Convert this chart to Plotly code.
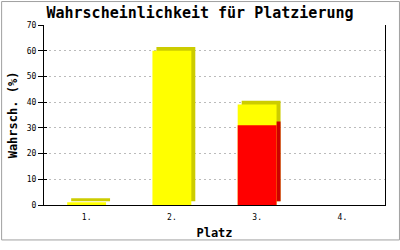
import plotly.graph_objects as go

categories = ["1.", "2.", "3.", "4."]
yellow_values = [1.1, 60.0, 39.1, 0.0]
red_values = [0.0, 0.0, 31.0, 0.0]
y_ticks = [0, 10, 20, 30, 40, 50, 60, 70]

W, H = 400, 250
ML, MR, MT, MB = 43, 15, 25, 37
PW, PH = W - ML - MR, H - MT - MB
YMAX = 70
BAR_W = 0.456
SH_PX = 4
sx = SH_PX / (PW / len(categories))
sy = SH_PX / (PH / YMAX)

fig = go.Figure()

def shadow(vals, color):
    fig.add_trace(go.Bar(x=categories, y=vals, base=[sy] * len(vals), width=BAR_W,
                         offset=-BAR_W / 2 + sx, marker=dict(color=color, line=dict(width=0)),
                         showlegend=False, hoverinfo="skip"))

def front(vals, color):
    fig.add_trace(go.Bar(x=categories, y=vals, width=BAR_W, offset=-BAR_W / 2,
                         marker=dict(color=color, line=dict(width=0)), showlegend=False))

shadow(yellow_values, "#CCCC00")
shadow(red_values, "#CC0000")
front(yellow_values, "#FFFF00")
front(red_values, "#FF0000")

mono = "DejaVu Sans Mono"
fig.update_layout(
    width=W, height=H, barmode="overlay",
    margin=dict(l=ML, r=MR, t=MT, b=MB, pad=0),
    paper_bgcolor="white", plot_bgcolor="white",
    title=dict(text="<b>Wahrscheinlichkeit für Platzierung</b>", x=0.5, xanchor="center",
               y=1 - 13 / H, yanchor="middle", font=dict(family=mono, size=15, color="black")),
    xaxis=dict(type="category", range=[-0.5, 3.5], showline=True, linecolor="black", linewidth=1,
               ticks="outside", ticklen=4, tickcolor="rgba(0,0,0,0)", showgrid=False,
               tickfont=dict(family=mono, size=8, color="black"),
               title=dict(text="<b>Platz</b>", font=dict(family=mono, size=12, color="black"), standoff=8)),
    yaxis=dict(range=[0, YMAX], tickvals=y_ticks, showline=True, linecolor="black", linewidth=1,
               mirror=True, ticks="outside", ticklen=5, tickcolor="black",
               showgrid=True, gridcolor="#BBBBBB", griddash="2px,3px", gridwidth=1, zeroline=False,
               tickfont=dict(family=mono, size=8, color="black"),
               title=dict(text="<b>Wahrsch. (%)</b>", font=dict(family=mono, size=12, color="black"), standoff=6)),
    yaxis2=dict(range=[0, YMAX], tickvals=y_ticks, overlaying="y", side="left", anchor="x",
                ticks="inside", ticklen=3, tickcolor="black", showticklabels=False,
                showgrid=False, zeroline=False, showline=False),
    shapes=[dict(type="rect", xref="paper", yref="paper",
                 x0=(0.5 - ML) / PW, x1=(W - 0.5 - ML) / PW,
                 y0=-(MB - 0.5) / PH, y1=1 + (MT - 0.5) / PH,
                 line=dict(color="#A0A0A0", width=1), fillcolor="rgba(0,0,0,0)", layer="above")],
)
# invisible trace to activate the second y axis (inner tick stubs)
fig.add_trace(go.Scatter(x=[categories[0]], y=[None], yaxis="y2", showlegend=False,
                         hoverinfo="skip", mode="markers"))

fig.write_html("out.html")
